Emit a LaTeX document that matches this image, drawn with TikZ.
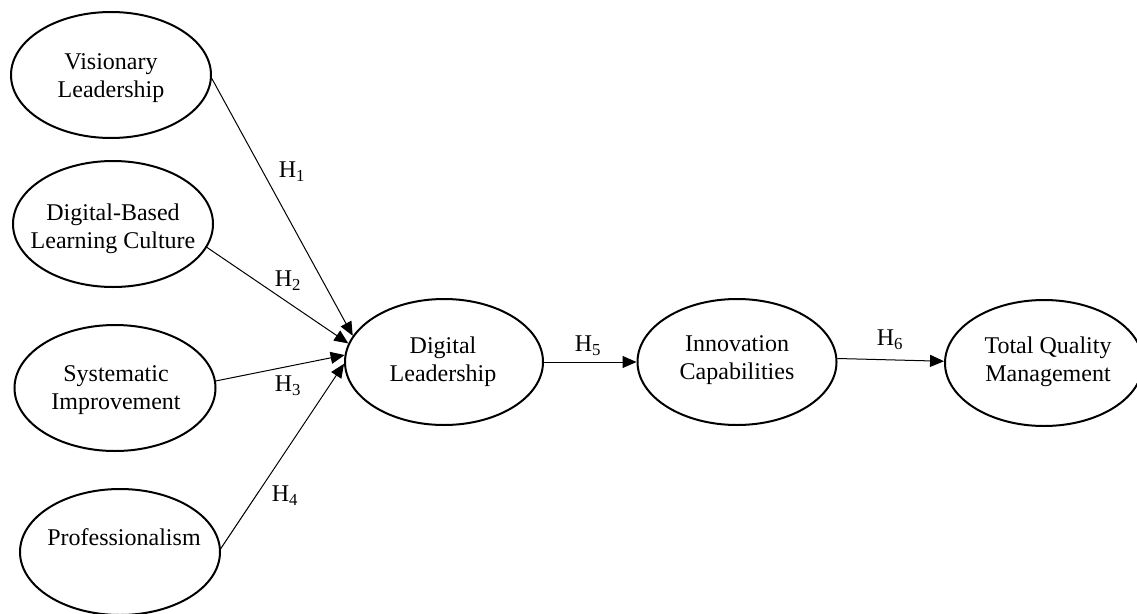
\documentclass[tikz,border=0pt]{standalone}
\usepackage{fontspec}
\setmainfont{Liberation Serif}
\usetikzlibrary{shapes.geometric,arrows.meta}
\tikzset{
  construct/.style={ellipse, draw, line width=2pt, inner sep=0pt,
    minimum width=200pt, minimum height=126pt},
  ctext/.style={inner sep=0pt, align=center, font=\fontsize{24}{28}\selectfont},
  path/.style={line width=1pt, -{Triangle[length=14pt,width=12pt]}},
  hyp/.style={inner sep=0pt, font=\fontsize{24}{28}\selectfont}
}
\begin{document}
\begin{tikzpicture}[x=1pt,y=-1pt]
\useasboundingbox (0,0) rectangle (1137,613);
\node[construct] (vl) at (111,75) {};
\node[construct] (dbl) at (113,224) {};
\node[construct, minimum width=201pt] (si) at (115,388) {};
\node[construct] (pro) at (120,552) {};
\node[construct, minimum width=198pt] (dl) at (444,362) {};
\node[construct, minimum width=199pt] (ic) at (737,362) {};
\node[construct, minimum width=198pt] (tqm) at (1044,363) {};

\node[ctext] (vlt) at (111,78) {Visionary\\Leadership};
\node[ctext] (dblt) at (113,229) {Digital-Based\\Learning Culture};
\node[ctext] (sit) at (116,390) {Systematic\\Improvement};
\node[ctext] (prot) at (124,537) {Professionalism};
\node[ctext] (dlt) at (443,362) {Digital\\Leadership};
\node[ctext] (ict) at (737,360) {Innovation\\Capabilities};
\node[ctext] (tqmt) at (1048,362) {Total Quality\\Management};

\draw[path] (vl.-2) -- (dl.164);
\draw[path] (dbl.-14) -- (dl.169);
\draw[path] (si.4) -- (dl.176);
\draw[path] (pro.2) -- (dl.181);
\draw[path] (dl.east) -- (ic.west);
\draw[path] (ic.2) -- (tqm.179);

\node[hyp] (h1) at (292,172) {H\textsubscript{1}};
\node[hyp] (h2) at (288,281) {H\textsubscript{2}};
\node[hyp] (h3) at (288,386) {H\textsubscript{3}};
\node[hyp] (h4) at (285,496) {H\textsubscript{4}};
\node[hyp] (h5) at (588,346) {H\textsubscript{5}};
\node[hyp] (h6) at (890,340) {H\textsubscript{6}};
\end{tikzpicture}
\end{document}
